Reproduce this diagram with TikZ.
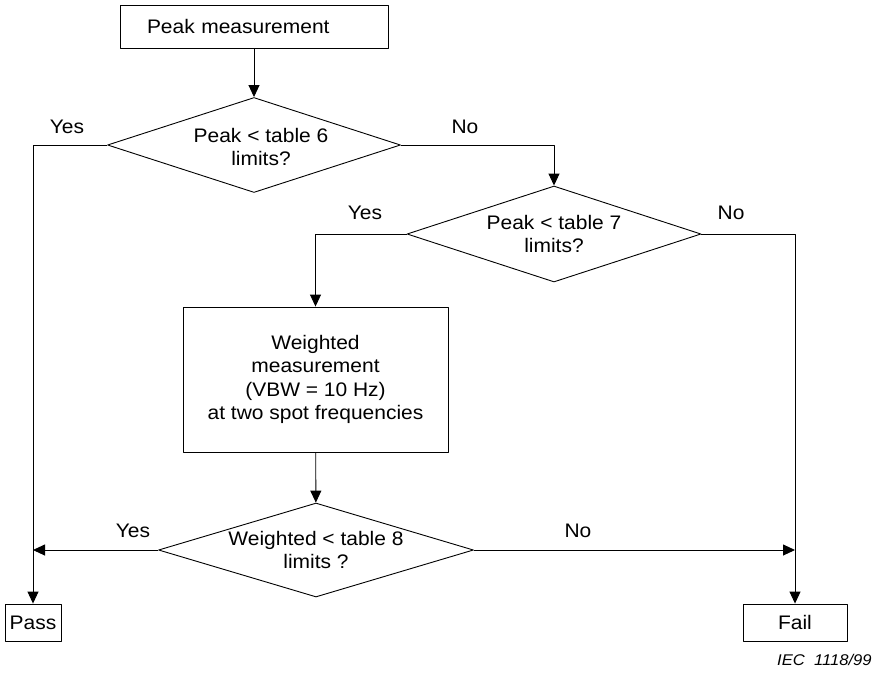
\documentclass[tikz,border=0pt]{standalone}
\usepackage{fontspec}
\setmainfont[FakeStretch=1.07]{Liberation Sans}
\usetikzlibrary{shapes.geometric,arrows.meta}
\begin{document}
\begin{tikzpicture}[x=1pt,y=-1pt,line width=0.9pt,line join=round,
  >={Triangle[length=12pt,width=11pt]},
  font=\fontsize{19.6}{23.3}\selectfont,
  box/.style={draw,rectangle,inner sep=0pt},
  decision/.style={draw,diamond,inner sep=0pt},
  answer/.style={inner sep=0pt}]
\useasboundingbox (0,0) rectangle (874,675);
% boxes
\node[box,minimum width=268pt,minimum height=43pt,text width=214pt,inner xsep=27pt,align=left] (peak) at (254,26.5) {Peak measurement};
\node[box,minimum width=265pt,minimum height=145pt,align=center] (meas) at (315.5,379.5) {Weighted\\measurement\\(VBW = 10 Hz)\\at two spot frequencies};
\node[box,minimum width=56pt,minimum height=37pt] (pass) at (33,622.5) {Pass};
\node[box,minimum width=104pt,minimum height=37pt] (fail) at (795,622.5) {Fail};
% decisions
\node[decision,minimum width=293pt,minimum height=95pt,label={[align=center,xshift=7pt,yshift=-2pt]center:Peak < table 6\\limits?}] (lim6) at (254,145) {};
\node[decision,minimum width=294pt,minimum height=96pt,label={[align=center]center:Peak < table 7\\limits?}] (lim7) at (554,234) {};
\node[decision,minimum width=315pt,minimum height=94pt,label={[align=center]center:Weighted < table 8\\limits ?}] (lim8) at (316,550) {};
% answers
\node[answer] (yes6) at (67,127) {Yes};
\node[answer] (no6) at (465,127) {No};
\node[answer] (yes7) at (365,213) {Yes};
\node[answer] (no7) at (731,213) {No};
\node[answer] (yes8) at (133,531) {Yes};
\node[answer] (no8) at (578,531) {No};
\node[font=\fontsize{15.5}{17}\selectfont\itshape,anchor=east,inner sep=0pt] (iec) at (872,660) {IEC\ \ 1118/99};
% connectors
\draw[->] (peak) -- (lim6);
\draw[->] (lim6.west) -| (pass);
\draw[->] (lim6.east) -| (lim7);
\draw[->] (lim7.west) -| (meas);
\draw[->] (lim7.east) -| (fail);
\draw[->] (meas) -- (lim8);
\draw[->] (lim8.west) -- (lim8.west -| pass);
\draw[->] (lim8.east) -- (lim8.east -| fail);
\end{tikzpicture}
\end{document}
